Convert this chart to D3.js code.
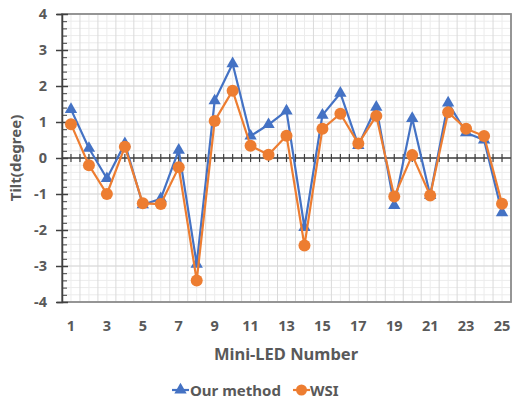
<!DOCTYPE html>
<html>
<head>
<meta charset="utf-8">
<script src="https://cdn.jsdelivr.net/npm/d3@7"></script>
<style>
  html, body { margin: 0; padding: 0; background: #fff; }
  svg { display: block; font-family: "Noto Sans", "Open Sans", sans-serif; }
</style>
</head>
<body>
<svg id="chart" width="513" height="399"></svg>
<script>
// Tilt of each Mini-LED measured by two methods
const ledNumbers = d3.range(1, 26);
const ourMethod = [1.35, 0.27, -0.57, 0.4, -1.3, -1.13, 0.22, -2.95, 1.59, 2.62,
                   0.61, 0.93, 1.31, -1.93, 1.19, 1.8, 0.35, 1.41, -1.32, 1.1,
                   -1.04, 1.53, 0.7, 0.5, -1.52];
const wsi = [0.94, -0.2, -1.0, 0.31, -1.26, -1.28, -0.26, -3.4, 1.03, 1.87,
             0.34, 0.09, 0.62, -2.43, 0.81, 1.23, 0.4, 1.17, -1.07, 0.08,
             -1.04, 1.27, 0.81, 0.61, -1.27];
const yTicks = [-4, -3, -2, -1, 0, 1, 2, 3, 4];
const xTickLabels = [1, 3, 5, 7, 9, 11, 13, 15, 17, 19, 21, 23, 25];

const series = [
  { name: "Our method", values: ourMethod, color: "#4472C4", marker: "triangle" },
  { name: "WSI", values: wsi, color: "#ED7D31", marker: "circle" }
];

const svg = d3.select("#chart");
const plotL = 62, plotR = 511, plotT = 14, plotB = 302;

const x = d3.scaleLinear().domain([0.5, 25.5]).range([plotL, plotR]);
const y = d3.scaleLinear().domain([-4, 4]).range([plotB, plotT]);

// grid: minor every 0.2 vertically, every half category horizontally
const g = svg.append("g");
const minorY = d3.range(-4, 4.0001, 0.2).map(v => +v.toFixed(2));
g.selectAll(".gy-minor").data(minorY).join("line")
  .attr("x1", plotL).attr("x2", plotR)
  .attr("y1", d => y(d)).attr("y2", d => y(d))
  .attr("stroke", "#ececec").attr("stroke-width", 1);
const halfSteps = d3.range(0.5, 25.51, 0.5);
g.selectAll(".gx").data(halfSteps).join("line")
  .attr("x1", d => x(d)).attr("x2", d => x(d))
  .attr("y1", plotT).attr("y2", plotB)
  .attr("stroke", d => Number.isInteger(d) ? "#ececec" : "#dadada")
  .attr("stroke-width", 1);
g.selectAll(".gy-major").data(yTicks).join("line")
  .attr("x1", plotL).attr("x2", plotR)
  .attr("y1", d => y(d)).attr("y2", d => y(d))
  .attr("stroke", "#d8d8d8").attr("stroke-width", 1.2);

// plot frame
svg.append("rect")
  .attr("x", plotL).attr("y", plotT)
  .attr("width", plotR - plotL).attr("height", plotB - plotT)
  .attr("fill", "none").attr("stroke", "#8c8c8c").attr("stroke-width", 1.8);

// left axis with crossing major ticks and inside minor ticks
const yAxisMinor = d3.axisRight(y).tickValues(minorY.filter(v => !Number.isInteger(v)))
  .tickSize(5).tickFormat("");
svg.append("g").attr("transform", `translate(${plotL},0)`).call(yAxisMinor)
  .call(a => a.select(".domain").remove())
  .selectAll("line").attr("stroke", "#404040");
const yAxis = d3.axisLeft(y).tickValues(yTicks).tickSize(5).tickPadding(10)
  .tickFormat(d => String(d));
const ya = svg.append("g").attr("transform", `translate(${plotL},0)`).call(yAxis);
ya.select(".domain").attr("stroke", "#404040").attr("stroke-width", 1.5);
ya.selectAll(".tick line").attr("x2", 6).attr("x1", -6).attr("stroke", "#404040").attr("stroke-width", 1.5);
ya.selectAll("text").attr("font-size", 14.5).attr("font-weight", 700).attr("fill", "#595959")
  .attr("font-family", "'Noto Sans', sans-serif");

// horizontal axis through zero with crossing ticks
svg.append("line")
  .attr("x1", plotL).attr("x2", plotR).attr("y1", y(0)).attr("y2", y(0))
  .attr("stroke", "#404040").attr("stroke-width", 1.3);
svg.selectAll(".zt").data(halfSteps.filter(d => d > 0.5 && d < 25.5)).join("line")
  .attr("x1", d => x(d)).attr("x2", d => x(d))
  .attr("y1", y(0) - 4).attr("y2", y(0) + 4)
  .attr("stroke", "#404040").attr("stroke-width", 1.2);

// category labels under the plot
svg.selectAll(".xl").data(xTickLabels).join("text")
  .attr("x", d => x(d)).attr("y", 331)
  .attr("text-anchor", "middle")
  .attr("font-size", 14.5).attr("font-weight", 700).attr("fill", "#595959")
  .text(d => d);

// axis titles
svg.append("text").attr("x", 286).attr("y", 360).attr("text-anchor", "middle")
  .attr("font-size", 16.5).attr("font-weight", 700).attr("fill", "#595959")
  .text("Mini-LED Number");
svg.append("text").attr("transform", `translate(21,158) rotate(-90)`)
  .attr("text-anchor", "middle")
  .attr("font-size", 15).attr("font-weight", 700).attr("fill", "#595959")
  .text("Tilt(degree)");

// lines and markers
const line = d3.line().x((d, i) => x(ledNumbers[i])).y(d => y(d));
const triangle = d3.symbol().type(d3.symbolTriangle).size(66);

series.forEach(s => {
  const sg = svg.append("g");
  sg.append("path").datum(s.values)
    .attr("d", line).attr("fill", "none")
    .attr("stroke", s.color).attr("stroke-width", 2.2).attr("stroke-linejoin", "round");
  if (s.marker === "triangle") {
    sg.selectAll("path.m").data(s.values).join("path").attr("class", "m")
      .attr("d", triangle)
      .attr("transform", (d, i) => `translate(${x(ledNumbers[i])},${y(d)})`)
      .attr("fill", s.color);
  } else {
    sg.selectAll("circle").data(s.values).join("circle")
      .attr("cx", (d, i) => x(ledNumbers[i])).attr("cy", d => y(d))
      .attr("r", 6).attr("fill", s.color);
  }
});

// legend
const legendItems = [
  { s: series[0], x0: 172, tx: 190 },
  { s: series[1], x0: 293, tx: 310 }
];
legendItems.forEach(it => {
  const ly = 390;
  const lg = svg.append("g");
  lg.append("line").attr("x1", it.x0).attr("x2", it.x0 + 17)
    .attr("y1", ly).attr("y2", ly).attr("stroke", it.s.color).attr("stroke-width", 2.2);
  if (it.s.marker === "triangle") {
    lg.append("path").attr("d", triangle).attr("transform", `translate(${it.x0 + 8.5},${ly})`)
      .attr("fill", it.s.color);
  } else {
    lg.append("circle").attr("cx", it.x0 + 8.5).attr("cy", ly).attr("r", 5.5).attr("fill", it.s.color);
  }
  lg.append("text").attr("x", it.tx).attr("y", ly + 5.5)
    .attr("font-size", 15).attr("font-weight", 700).attr("fill", "#595959")
    .text(it.s.name);
});
</script>
</body>
</html>
